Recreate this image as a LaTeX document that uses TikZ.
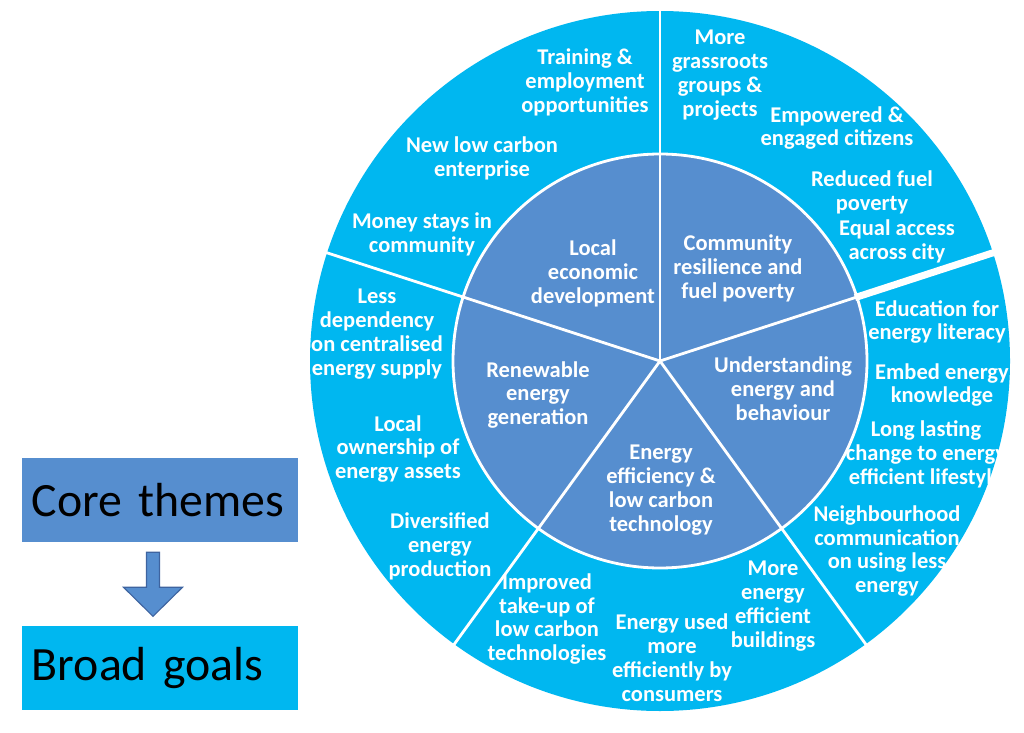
\documentclass[tikz,border=0pt]{standalone}
\usepackage{fontspec}
\setmainfont{Carlito}
\usetikzlibrary{positioning}
\definecolor{goalcyan}{RGB}{0,183,240}
\definecolor{themeblue}{RGB}{86,142,207}
\definecolor{arrowedge}{RGB}{62,100,160}

\begin{document}
\begin{tikzpicture}[x=0.025cm, y=0.025cm,
    goal/.style    ={text=white, font=\bfseries\fontsize{16}{17}\selectfont,
                     align=center, inner sep=0pt},
    theme/.style   ={goal},
    divider/.style ={white, line width=2pt},
    gap/.style     ={white, line width=5pt},
    keybox/.style  ={text width=6.4cm, align=left, inner xsep=0.25cm, inner ysep=0pt,
                     minimum height=2.1cm, font=\fontsize{34}{40}\selectfont},
    blockarr/.style={fill=themeblue, draw=arrowedge, line width=0.8pt}
]

%% ── Canvas ───────────────────────────────────────────────────────
\useasboundingbox (0,0) rectangle (1024,732);
\fill[white] (0,0) rectangle (1024,732);

%% ── Wheel ────────────────────────────────────────────────────────
\coordinate (c) at (660,371);
\fill[goalcyan] (c) circle (350);
\fill[themeblue, draw=white, line width=2pt] (c) circle (207);
\foreach \a in {90,18,-54,-126,162}
    \draw[divider] (c) -- ++(\a:356);
\draw[gap] (c) ++(18:205) -- ++(18:152);

%% ── Core themes (inner ring) ─────────────────────────────────────
\node[theme] (econ)   at (593,459) {Local\\economic\\development};
\node[theme] (resil)  at (738,464) {Community\\resilience and\\fuel poverty};
\node[theme] (renew)  at (538,337) {Renewable\\energy\\generation};
\node[theme] (under)  at (783,343) {Understanding\\energy and\\behaviour};
\node[theme] (effic)  at (661,242) {Energy\\efficiency \&\\low carbon\\technology};

%% ── Broad goals (outer ring) ─────────────────────────────────────
\node[goal] (train)   at (585,650) {Training \&\\employment\\opportunities};
\node[goal] (newlow)  at (482,574) {New low carbon\\enterprise};
\node[goal] (money)   at (422,498) {Money stays in\\community};
\node[goal] (grass)   at (720,657) {More\\grassroots\\groups \&\\projects};
\node[goal] (empow)   at (837,604) {Empowered \&\\engaged citizens};
\node[goal] (fuel)    at (872,540) {Reduced fuel\\poverty};
\node[goal] (equal)   at (897,491) {Equal access\\across city};
\node[goal] (lessdep) at (377,398) {Less\\dependency\\on centralised\\energy supply};
\node[goal] (owner)   at (398,283) {Local\\ownership of\\energy assets};
\node[goal] (divers)  at (440,186) {Diversified\\energy\\production};
\node[goal] (takeup)  at (547,113) {Improved\\take-up of\\low carbon\\technologies};
\node[goal] (usedby)  at (672,74)  {Energy used\\more\\efficiently by\\consumers};
\node[goal] (build)   at (773,126) {More\\energy\\efficient\\buildings};
\node[goal] (neigh)   at (887,181) {Neighbourhood\\communication\\on using less\\energy};
\node[goal] (literacy)at (937,410) {Education for\\energy literacy};
\node[goal] (embed)   at (942,347) {Embed energy\\knowledge};
\node[goal] (lasting) at (926,278) {Long lasting\\change to energy\\efficient lifestyle};

%% ── Key ──────────────────────────────────────────────────────────
\node[keybox, fill=themeblue] (core) at (160,232) {Core themes};
\node[keybox, fill=goalcyan, below=2.075cm of core] (broad) {Broad goals};

\path (core.south) ++(-13.5,-10) coordinate (atail);
\draw[blockarr] (atail) -- ++(13,0) -- ++(0,-35) -- ++(23,0) -- ++(-29.5,-29)
    -- ++(-29.5,29) -- ++(23,0) -- cycle;

\end{tikzpicture}
\end{document}
